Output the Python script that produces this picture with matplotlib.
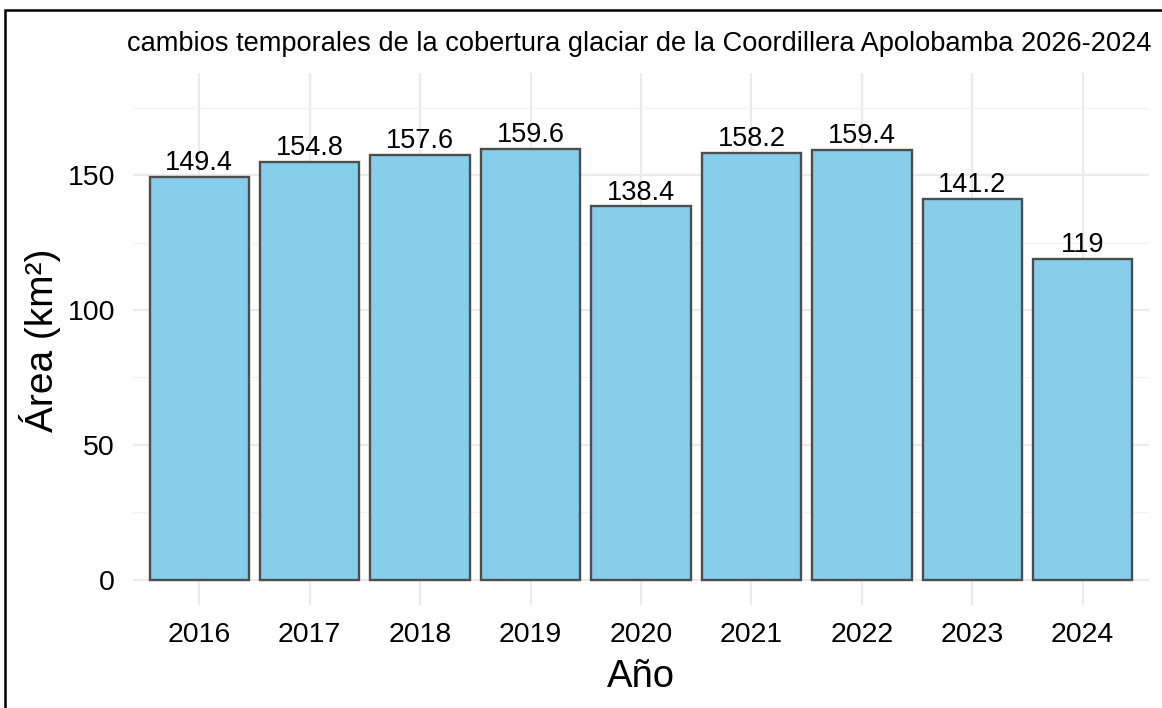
import matplotlib
matplotlib.use("Agg")
import matplotlib.pyplot as plt
from matplotlib.patches import Rectangle
from matplotlib.ticker import MultipleLocator

plt.rcParams['font.family'] = ['Liberation Sans', 'DejaVu Sans']

# data
years = ['2016', '2017', '2018', '2019', '2020', '2021', '2022', '2023', '2024']
area = [149.4, 154.8, 157.6, 159.6, 138.4, 158.2, 159.4, 141.2, 119]
labels = ['149.4', '154.8', '157.6', '159.6', '138.4', '158.2', '159.4', '141.2', '119']

W, H = 1162, 708
fig = plt.figure(figsize=(W / 100, H / 100), dpi=100)
ax = fig.add_axes([133 / W, 1 - 605 / H, (1149 - 133) / W, (605 - 73) / H])

xs = list(range(1, len(years) + 1))
bars = ax.bar(xs, area, width=0.9, color='#87CEEB', edgecolor='#4D4D4D',
              linewidth=1.7, zorder=3)
for x, v, lab in zip(xs, area, labels):
    ax.annotate(lab, (x, v), xytext=(0, 0.5), textcoords='offset points',
                ha='center', va='bottom', fontsize=19.5, color='black', zorder=4)

ax.set_xlim(0.4, 9.6)
ax.set_ylim(-9.3, 187.8)
ax.set_xticks(xs)
ax.set_xticklabels(years)
ax.yaxis.set_major_locator(MultipleLocator(50))
ax.yaxis.set_minor_locator(MultipleLocator(25))
ax.set_yticks([0, 50, 100, 150])

ax.grid(which='major', color='#EBEBEB', linewidth=1.6, zorder=0)
ax.grid(which='minor', axis='y', color='#F2F2F2', linewidth=0.9, zorder=0)
for s in ax.spines.values():
    s.set_visible(False)
ax.tick_params(which='both', length=0)
ax.tick_params(axis='y', labelsize=20.5, pad=13, colors='black')
ax.tick_params(axis='x', labelsize=20.5, pad=12, colors='black')

fig.text(40 / W, 1 - 340 / H, 'Área (km²)', rotation=90, ha='center',
         va='center', fontsize=28)
fig.text(641 / W, 1 - 677 / H, 'Año', ha='center', va='center', fontsize=27.5)
fig.text(127 / W, 1 - 44 / H,
         'cambios temporales de la cobertura glaciar de la Coordillera Apolobamba 2026-2024',
         ha='left', va='center', fontsize=19.6)

# black frame around the image
frame = Rectangle((5 / W, -0.05), 1.1, 1 - 10 / H + 0.05, transform=fig.transFigure,
                  fill=False, edgecolor='black', linewidth=1.8, clip_on=False)
fig.patches.append(frame)

fig.savefig('out.png', dpi=100, facecolor='white')
